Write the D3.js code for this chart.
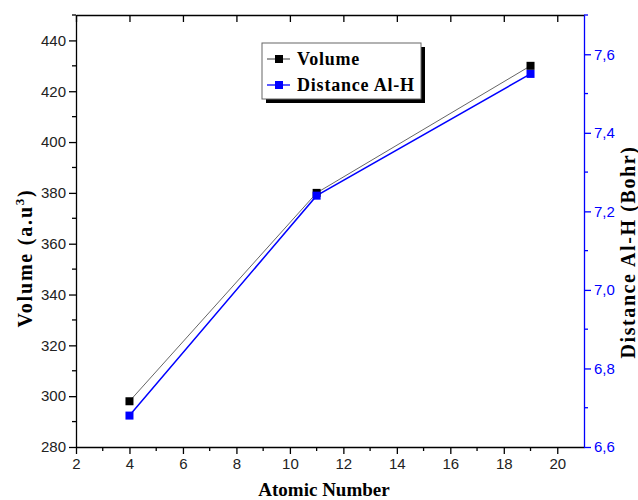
<!DOCTYPE html>
<html>
<head>
<meta charset="utf-8">
<script src="https://cdn.jsdelivr.net/npm/d3@7"></script>
<style>
  body { margin: 0; background: #fff; }
  .tick text { font-family: "Liberation Sans", Arial, sans-serif; font-size: 15px; }
  .ttl { font-family: "Liberation Serif", "Times New Roman", serif; font-weight: bold; }
</style>
</head>
<body>
<div id="chart"></div>
<script>
// data
var atomicNumber = [4, 11, 19];
var volume = [298, 380, 430];
var distanceAlH = [6.68, 7.24, 7.55];

var width = 638, height = 500;
var plotLeft = 76, plotRight = 584, plotTop = 15, plotBottom = 447;

var svg = d3.select("#chart").append("svg").attr("width", width).attr("height", height);

var x = d3.scaleLinear().domain([2, 21]).range([plotLeft, plotRight]);
var yL = d3.scaleLinear().domain([280, 450]).range([plotBottom, plotTop]);
var yR = d3.scaleLinear().domain([6.6, 7.7]).range([plotBottom, plotTop]);

// minor ticks
function minor(g, scale, vals, orient, len, color) {
    g.selectAll("line.minor").data(vals).enter().append("line")
        .attr("class", "minor")
        .attr("stroke", color).attr("stroke-width", 1.3)
        .each(function(d) {
            var s = d3.select(this);
            if (orient == "left") s.attr("x1", 0).attr("x2", -len).attr("y1", scale(d)).attr("y2", scale(d));
            if (orient == "right") s.attr("x1", 0).attr("x2", len).attr("y1", scale(d)).attr("y2", scale(d));
            if (orient == "bottom") s.attr("y1", 0).attr("y2", len).attr("x1", scale(d)).attr("x2", scale(d));
        });
}

// bottom axis
var gx = svg.append("g").attr("transform", "translate(0," + plotBottom + ")")
    .call(d3.axisBottom(x).tickValues(d3.range(2, 21, 2)).tickSize(7).tickPadding(4).tickSizeOuter(0));
minor(gx, x, d3.range(3, 21, 2), "bottom", 4, "#000");

// top axis (frame)
var gt = svg.append("g").attr("transform", "translate(0," + plotTop + ")")
    .call(d3.axisTop(x).tickValues(d3.range(2, 21, 2)).tickSize(-7).tickFormat("").tickSizeOuter(0));

// left axis
var gl = svg.append("g").attr("transform", "translate(" + plotLeft + ",0)")
    .call(d3.axisLeft(yL).tickValues(d3.range(280, 441, 20)).tickSize(7).tickPadding(3).tickSizeOuter(0));
minor(gl, yL, d3.range(290, 451, 20), "left", 4, "#000");

// right axis
var gr = svg.append("g").attr("transform", "translate(" + plotRight + ",0)")
    .call(d3.axisRight(yR).tickValues([6.6, 6.8, 7.0, 7.2, 7.4, 7.6]).tickSize(7).tickPadding(3).tickSizeOuter(0)
        .tickFormat(function(d) { return d3.format(".1f")(d).replace(".", ","); }));
minor(gr, yR, [6.7, 6.9, 7.1, 7.3, 7.5, 7.7], "right", 4, "#00f");

[gx, gt, gl].forEach(function(g) {
    g.selectAll("path, line").attr("stroke", "#000").attr("stroke-width", 1.3);
    g.selectAll("text").attr("fill", "#222");
});
gr.selectAll("path, line").attr("stroke", "#00f").attr("stroke-width", 1.3);
gr.selectAll("text").attr("fill", "#00f");

// series
var volPts = atomicNumber.map(function(d, i) { return [x(d), yL(volume[i])]; });
var disPts = atomicNumber.map(function(d, i) { return [x(d), yR(distanceAlH[i])]; });

svg.append("path").attr("d", d3.line()(volPts)).attr("fill", "none").attr("stroke", "#666").attr("stroke-width", 1);
svg.append("path").attr("d", d3.line()(disPts)).attr("fill", "none").attr("stroke", "#00f").attr("stroke-width", 1.5);

svg.selectAll("rect.vol").data(volPts).enter().append("rect")
    .attr("x", function(d) { return d[0] - 4; }).attr("y", function(d) { return d[1] - 4; })
    .attr("width", 8).attr("height", 8).attr("fill", "#000");
svg.selectAll("rect.dis").data(disPts).enter().append("rect")
    .attr("x", function(d) { return d[0] - 4; }).attr("y", function(d) { return d[1] - 4; })
    .attr("width", 8).attr("height", 8).attr("fill", "#00f");

// axis titles
svg.append("text").attr("class", "ttl").attr("x", 324).attr("y", 496)
    .attr("text-anchor", "middle").attr("font-size", 19).text("Atomic Number");

var vt = svg.append("text").attr("class", "ttl").attr("font-size", 20)
    .attr("letter-spacing", 1.8)
    .attr("text-anchor", "middle")
    .attr("transform", "translate(32,258) rotate(-90)");
vt.append("tspan").text("Volume (a.u");
vt.append("tspan").attr("dy", -8).attr("font-size", 13).text("3");
vt.append("tspan").attr("dy", 8).text(")");

svg.append("text").attr("class", "ttl").attr("font-size", 20)
    .attr("letter-spacing", 1.6)
    .attr("text-anchor", "middle")
    .attr("transform", "translate(635,252) rotate(-90)")
    .text("Distance Al-H (Bohr)");

// legend
var lg = svg.append("g").attr("transform", "translate(262,43)");
lg.append("rect").attr("x", 4).attr("y", 4).attr("width", 159).attr("height", 56).attr("fill", "#000");
lg.append("rect").attr("x", 0).attr("y", 0).attr("width", 159).attr("height", 56)
    .attr("fill", "#fff").attr("stroke", "#666").attr("stroke-width", 1);
var legItems = [["Volume", "#666", "#000"], ["Distance Al-H", "#00f", "#00f"]];
legItems.forEach(function(d, i) {
    var yy = 16 + i * 26;
    lg.append("line").attr("x1", 5).attr("x2", 28).attr("y1", yy).attr("y2", yy)
        .attr("stroke", d[1]).attr("stroke-width", 1.3);
    lg.append("rect").attr("x", 13).attr("y", yy - 4).attr("width", 8).attr("height", 8).attr("fill", d[2]);
    lg.append("text").attr("class", "ttl").attr("x", 35).attr("y", yy + 6)
        .attr("font-size", 18).attr("letter-spacing", 0.8).attr("fill", "#000").text(d[0]);
});
</script>
</body>
</html>
